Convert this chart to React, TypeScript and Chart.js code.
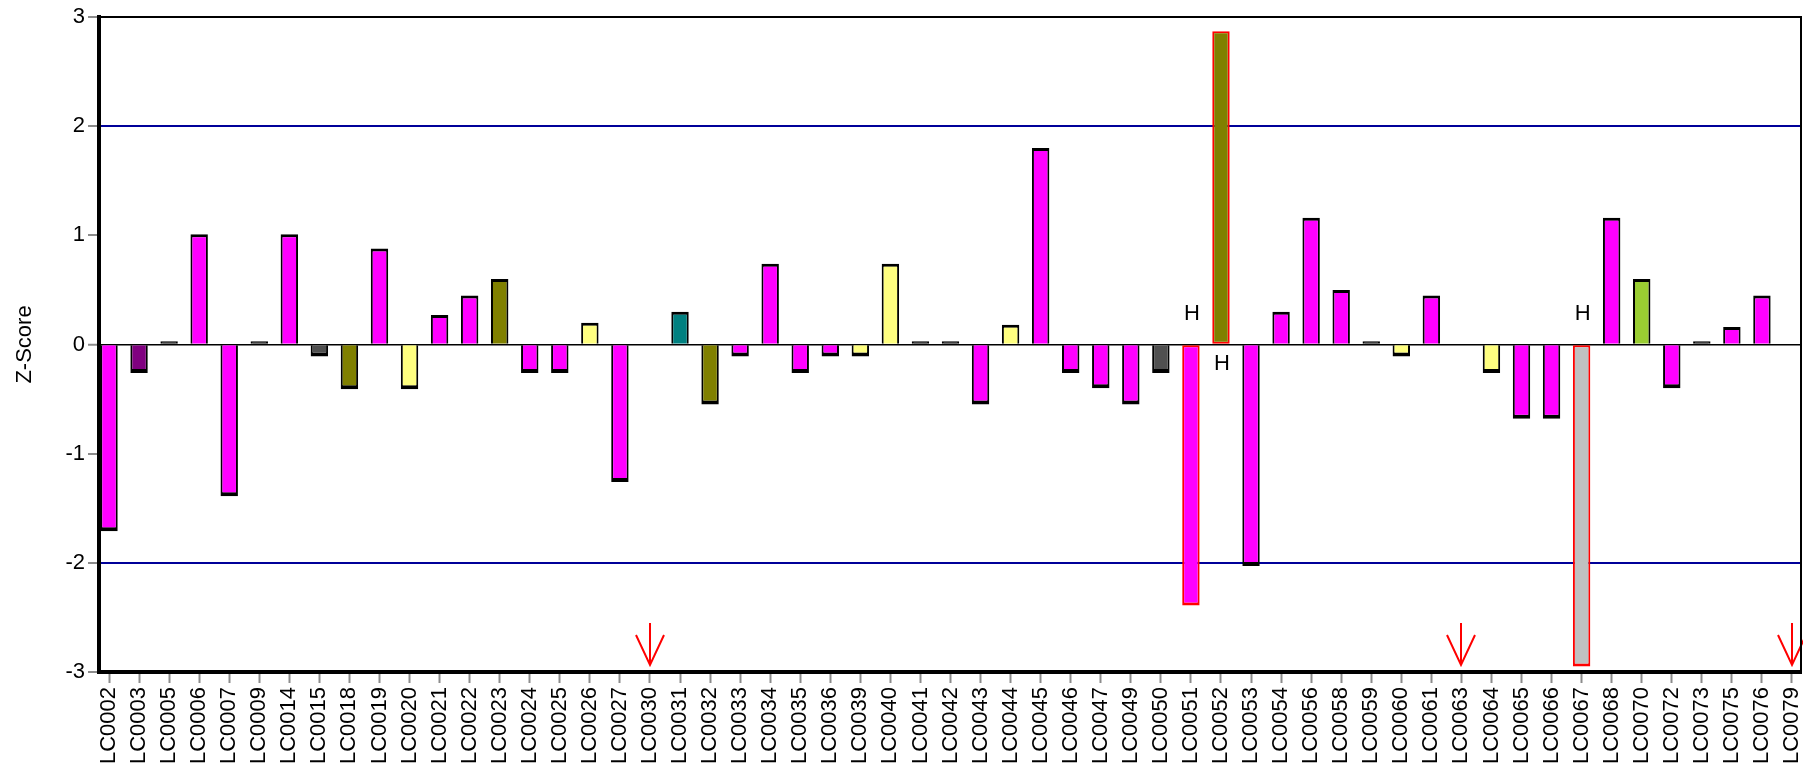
import React, { useEffect, useRef } from 'react';
import { Chart, registerables } from 'chart.js';

Chart.register(...registerables);

// ---- data ----
const labels = [
  'LC0002', 'LC0003', 'LC0005', 'LC0006', 'LC0007', 'LC0009', 'LC0014', 'LC0015', 'LC0018', 'LC0019',
  'LC0020', 'LC0021', 'LC0022', 'LC0023', 'LC0024', 'LC0025', 'LC0026', 'LC0027', 'LC0030', 'LC0031',
  'LC0032', 'LC0033', 'LC0034', 'LC0035', 'LC0036', 'LC0039', 'LC0040', 'LC0041', 'LC0042', 'LC0043',
  'LC0044', 'LC0045', 'LC0046', 'LC0047', 'LC0049', 'LC0050', 'LC0051', 'LC0052', 'LC0053', 'LC0054',
  'LC0056', 'LC0058', 'LC0059', 'LC0060', 'LC0061', 'LC0063', 'LC0064', 'LC0065', 'LC0066', 'LC0067',
  'LC0068', 'LC0070', 'LC0072', 'LC0073', 'LC0075', 'LC0076', 'LC0079',
];

const zScores: (number | null)[] = [
  -1.71, -0.26, 0.03, 1.01, -1.39, 0.03, 1.01, -0.11, -0.41, 0.88,
  -0.41, 0.27, 0.45, 0.60, -0.26, -0.26, 0.20, -1.26, null, 0.30,
  -0.55, -0.11, 0.74, -0.26, -0.11, -0.11, 0.74, 0.03, 0.03, -0.55,
  0.18, 1.80, -0.26, -0.40, -0.55, -0.26, -2.39, 2.87, -2.03, 0.30,
  1.16, 0.50, 0.03, -0.11, 0.45, null, -0.26, -0.68, -0.68, -2.95,
  1.16, 0.60, -0.40, 0.03, 0.16, 0.45, null,
];

// group key of each bar (colour key)
const barGroups = [
  'M', 'P', 'K', 'M', 'M', 'K', 'M', 'D', 'O', 'M',
  'Y', 'M', 'M', 'O', 'M', 'M', 'Y', 'M', '-', 'T',
  'O', 'M', 'M', 'M', 'M', 'Y', 'Y', 'K', 'K', 'M',
  'Y', 'M', 'M', 'M', 'M', 'D', 'M', 'O', 'M', 'M',
  'M', 'M', 'K', 'Y', 'M', '-', 'Y', 'M', 'M', 'G',
  'M', 'V', 'M', 'K', 'M', 'M', '-',
];

const flaggedLabels = ['LC0051', 'LC0052', 'LC0067']; // red outline + "H"
const arrowLabels = ['LC0030', 'LC0063', 'LC0079'];
const yMin = -3;
const yMax = 3;
const limitValues = [-2, 2];

// ---- styles ----
const groupColors: Record<string, string> = {
  M: '#FF00FF',
  P: '#800080',
  K: '#000000',
  D: '#505050',
  O: '#808000',
  Y: '#FFFF80',
  T: '#008080',
  G: '#C0C0C0',
  V: '#9ACD32',
  '-': '#FFFFFF',
};
const FONT = "'Liberation Sans', Arial, Helvetica, sans-serif";

export default function App() {
  const canvasRef = useRef<HTMLCanvasElement | null>(null);

  useEffect(() => {
    document.body.style.margin = '0';
    const canvas = canvasRef.current;
    if (!canvas) return;

    const isFlagged = (i: number) => flaggedLabels.includes(labels[i]);

    const overlay = {
      id: 'overlay',
      afterDatasetsDraw(chart: any) {
        const { ctx, chartArea, scales } = chart;
        const xs = scales.x;
        const ys = scales.y;
        const zero = ys.getPixelForValue(0);
        ctx.save();
        // H markers
        ctx.fillStyle = '#000';
        ctx.font = `22px ${FONT}`;
        ctx.textAlign = 'center';
        ctx.textBaseline = 'middle';
        flaggedLabels.forEach((lab) => {
          const i = labels.indexOf(lab);
          const v = zScores[i];
          if (i < 0 || v == null) return;
          const x = xs.getPixelForValue(i);
          const y = v < 0 ? zero - 31 : zero + 19;
          ctx.fillText('H', x + 1, y);
        });
        // red arrows
        ctx.strokeStyle = '#FF0000';
        ctx.lineWidth = 2;
        arrowLabels.forEach((lab) => {
          const i = labels.indexOf(lab);
          if (i < 0) return;
          const x = Math.round(xs.getPixelForValue(i));
          const b = chartArea.bottom;
          ctx.beginPath();
          ctx.moveTo(x, b - 49);
          ctx.lineTo(x, b - 7);
          ctx.moveTo(x - 14, b - 37);
          ctx.lineTo(x, b - 7);
          ctx.lineTo(x + 14, b - 37);
          ctx.stroke();
        });
        ctx.restore();
      },
      afterDraw(chart: any) {
        const { ctx, chartArea } = chart;
        ctx.save();
        ctx.strokeStyle = '#000';
        ctx.lineWidth = 2;
        ctx.beginPath();
        ctx.moveTo(chartArea.right, chartArea.top - 1);
        ctx.lineTo(chartArea.right, chartArea.bottom);
        ctx.stroke();
        ctx.restore();
      },
    };

    const chart = new Chart(canvas, {
      type: 'bar',
      data: {
        datasets: [
          {
            data: zScores.map((v, i) => ({ x: i, y: v })) as any,
            backgroundColor: barGroups.map((g) => groupColors[g]),
            borderColor: labels.map((l) => (flaggedLabels.includes(l) ? '#FF0000' : '#000000')),
            borderWidth: (ctx: any) => {
              const v = ctx.raw ? ctx.raw.y : null;
              if (v == null) return 0;
              if (isFlagged(ctx.dataIndex)) {
                return v < 0
                  ? { top: 2, left: 2, right: 2, bottom: 3 }
                  : { top: 2, left: 2, right: 2, bottom: 2 };
              }
              return v >= 0
                ? { top: 3, left: 2, right: 2, bottom: 0 }
                : { top: 0, left: 2, right: 2, bottom: 4 };
            },
            borderSkipped: (ctx: any) => (isFlagged(ctx.dataIndex) ? false : 'start'),
            categoryPercentage: 1,
            barPercentage: 0.58,
          } as any,
        ],
      },
      options: {
        responsive: false,
        animation: false,
        devicePixelRatio: 1,
        layout: { padding: { top: 17, right: 2, left: 0, bottom: 0 } },
        plugins: {
          legend: { display: false },
          tooltip: { enabled: false },
          title: { display: false },
        },
        scales: {
          x: {
            type: 'linear',
            offset: false,
            min: -0.333,
            max: 56.3,
            bounds: 'data',
            afterBuildTicks: (scale: any) => {
              scale.ticks = labels.map((_, i) => ({ value: i }));
            },
            afterFit: (scale: any) => {
              scale.height = 94;
              scale.paddingLeft = 0;
              scale.paddingRight = 0;
            },
            ticks: {
              autoSkip: false,
              maxRotation: 90,
              minRotation: 90,
              padding: 4,
              color: '#000',
              font: { family: FONT, size: 22 },
              callback: (value: any) => labels[Math.round(Number(value))] ?? '',
            },
            grid: {
              offset: false,
              drawOnChartArea: false,
              drawTicks: true,
              tickLength: 11,
              tickColor: '#8C8C8C',
              tickWidth: 2,
            },
            border: { display: true, color: '#000', width: 4 },
          },
          y: {
            type: 'linear',
            min: yMin,
            max: yMax,
            afterFit: (scale: any) => {
              scale.width = 99;
              scale.paddingTop = 0;
              scale.paddingBottom = 0;
            },
            ticks: {
              stepSize: 1,
              padding: 3,
              color: '#000',
              font: { family: FONT, size: 22 },
            },
            title: {
              display: true,
              text: 'Z-Score',
              color: '#000',
              font: { family: FONT, size: 22 },
              padding: { top: 12, bottom: 0 },
            },
            grid: {
              drawTicks: true,
              tickLength: 11,
              tickColor: '#8C8C8C',
              tickWidth: 2,
              color: (ctx: any) => {
                const v = ctx.tick ? ctx.tick.value : null;
                if (v === yMax) return '#000000';
                if (v === 0) return '#000000';
                if (limitValues.includes(v)) return '#000099';
                return 'rgba(0,0,0,0)';
              },
              lineWidth: (ctx: any) => {
                const v = ctx.tick ? ctx.tick.value : null;
                if (v === 0) return 1.5;
                return 2;
              },
            },
            border: { display: true, color: '#000', width: 4 },
          },
        },
      },
      plugins: [overlay],
    });

    return () => {
      chart.destroy();
    };
  }, []);

  return (
    <canvas
      ref={canvasRef}
      width={1803}
      height={766}
      style={{ display: 'block', position: 'absolute', left: 0, top: 0 }}
    />
  );
}
